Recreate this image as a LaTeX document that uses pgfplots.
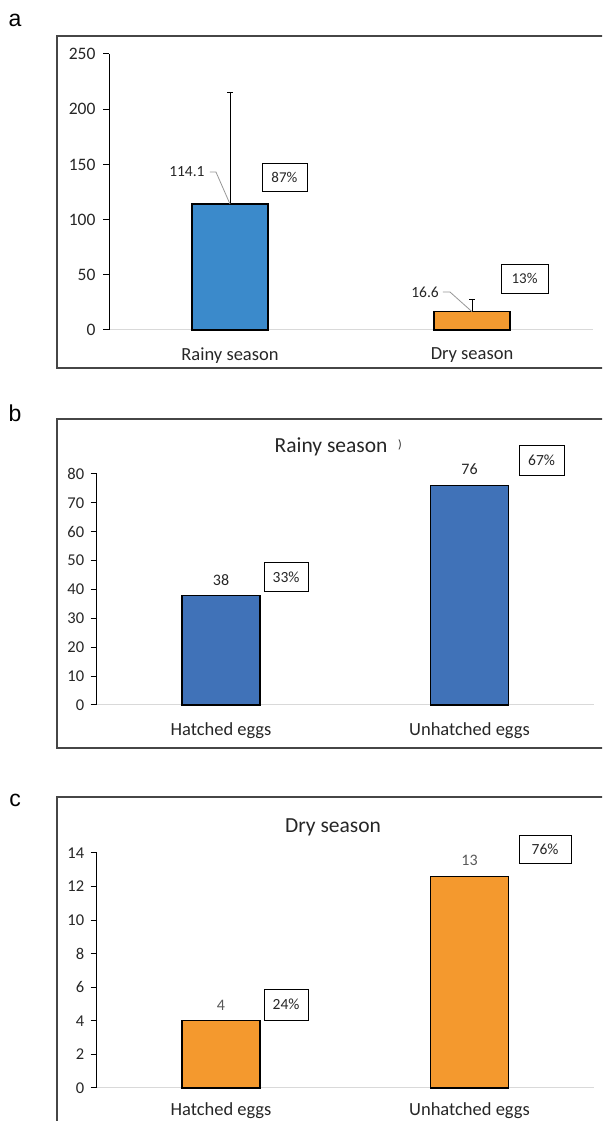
\documentclass[border=0pt]{standalone}
\usepackage{pgfplots}
\pgfplotsset{compat=1.18}
\usepackage{fontspec}
\setmainfont{Carlito}
\newfontfamily\arialfont{Liberation Sans}
\definecolor{blueA}{RGB}{59,138,203}
\definecolor{orangeA}{RGB}{243,154,48}
\definecolor{blueB}{RGB}{64,114,184}
\definecolor{orangeC}{RGB}{244,153,46}
\definecolor{frameC}{RGB}{70,70,70}
\definecolor{xlineC}{RGB}{217,217,217}
\definecolor{leadC}{RGB}{150,150,150}
\definecolor{txtC}{RGB}{38,38,38}
\newcommand{\fs}[1]{\fontsize{#1}{#1}\selectfont}
\pgfplotsset{
  panel/.style={
    scale only axis,
    enlargelimits=false,
    clip=false,
    xmin=-0.5, xmax=1.5,
    axis x line*=bottom, axis y line*=left,
    axis line style={-},
    x axis line style={-,draw=xlineC, line width=1pt},
    y axis line style={-,draw=black, line width=1pt},
    xtick={0,1},
    major x tick style={draw=none},
    ytick style={draw=black, line width=1pt},
    tick align=outside,
    major tick length=6pt,
    /pgf/number format/assume math mode=true,
    xticklabel style={font=\fs{18.5}, text=txtC, yshift=-8pt},
    ybar, bar shift=0pt,
  },
}
\begin{document}
\begin{tikzpicture}
\useasboundingbox (0pt,0pt) rectangle (602pt,1121pt);
\clip (0pt,0pt) rectangle (602pt,1121pt);
% frames
\draw[frameC, line width=1.5pt] (57pt,753pt) rectangle (615pt,1085pt);
\draw[frameC, line width=1.5pt] (57pt,373pt) rectangle (615pt,702pt);
\draw[frameC, line width=1.5pt] (57pt,-20pt) rectangle (615pt,324pt);
\node[font=\arialfont\fs{23}] at (15pt,1101pt) {a};
\node[font=\arialfont\fs{23}] at (15pt,708pt) {b};
\node[font=\arialfont\fs{23}] at (15pt,321pt) {c};

% ---------- panel a ----------
\begin{axis}[panel, at={(109pt,791pt)}, anchor=south west, width=484pt, height=276pt,
  ymin=0, ymax=250, ytick={0,50,...,250},
  yticklabel style={font=\fs{17.5}, text=txtC, xshift=-4pt},
  xticklabels={Rainy season, Dry season}, bar width=76pt]
\addplot[fill=blueA, draw=black, line width=1.2pt,
  error bars/.cd, y dir=plus, y explicit,
  error bar style={black, line width=0.8pt},
  error mark options={rotate=90, mark size=3pt, black, line width=0.8pt}]
  coordinates {(0,114.1) +- (0,101.5)};
\addplot[fill=orangeA, draw=black, line width=1.2pt,
  error bars/.cd, y dir=plus, y explicit,
  error bar style={black, line width=0.8pt},
  error mark options={rotate=90, mark size=3pt, black, line width=0.8pt}]
  coordinates {(1,16.6) +- (0,11.5)};
\node[font=\fs{15.5}, text=txtC] at (axis cs:-0.178,143.1) {114.1};
\draw[leadC, line width=0.8pt] (axis cs:-0.083,143.1) -- (axis cs:-0.058,143.1) -- (axis cs:0,114.1);
\node[font=\fs{15.5}, text=txtC] at (axis cs:0.806,34.4) {16.6};
\draw[leadC, line width=0.8pt] (axis cs:0.880,34.4) -- (axis cs:0.909,34.4) -- (axis cs:1,16.6);
\node[draw=black, line width=0.9pt, minimum width=45pt, minimum height=28pt, inner sep=0pt, font=\fs{15}, text=txtC] at (axis cs:0.225,138.6) {87\%};
\node[draw=black, line width=0.9pt, minimum width=47pt, minimum height=29pt, inner sep=0pt, font=\fs{15}, text=txtC] at (axis cs:1.217,46.6) {13\%};
\end{axis}

% ---------- panel b ----------
\begin{axis}[panel, at={(96.75pt,416pt)}, anchor=south west, width=497pt, height=231pt,
  ymin=0, ymax=80, ytick={0,10,...,80},
  yticklabel style={font=\fs{16.5}, text=txtC, xshift=-3pt},
  xticklabels={Hatched eggs, Unhatched eggs}, bar width=78pt]
\addplot[fill=blueB, draw=black, line width=1.2pt] coordinates {(0,38)};
\addplot[fill=blueB, draw=black, line width=1.2pt] coordinates {(1,76)};
\node[font=\fs{21.5}, text=txtC] at (axis cs:0.443,89.4) {Rainy season};
\node[font=\fs{12}, text=txtC] at (axis cs:0.720,90.0) {)};
\node[font=\fs{16}, text=txtC] at (axis cs:0,43.3) {38};
\node[font=\fs{16}, text=txtC] at (axis cs:1,81.7) {76};
\node[draw=black, line width=0.9pt, minimum width=44pt, minimum height=29pt, inner sep=0pt, font=\fs{15.5}, text=txtC] at (axis cs:0.262,44.2) {33\%};
\node[draw=black, line width=0.9pt, minimum width=45pt, minimum height=30pt, inner sep=0pt, font=\fs{15.5}, text=txtC] at (axis cs:1.290,84.8) {67\%};
\end{axis}

% ---------- panel c ----------
\begin{axis}[panel, at={(96.75pt,33pt)}, anchor=south west, width=497pt, height=235pt,
  ymin=0, ymax=14, ytick={0,2,...,14},
  yticklabel style={font=\fs{16.5}, text=txtC, xshift=-3pt},
  xticklabel style={yshift=3pt},
  xticklabels={Hatched eggs, Unhatched eggs}, bar width=78pt]
\addplot[fill=orangeC, draw=black, line width=1.2pt] coordinates {(0,4)};
\addplot[fill=orangeC, draw=black, line width=1.2pt] coordinates {(1,12.6)};
\node[font=\fs{21.5}, text=txtC] at (axis cs:0.451,15.55) {Dry season};
\node[font=\fs{16}, text=black!65] at (axis cs:0,4.94) {4};
\node[font=\fs{16}, text=black!65] at (axis cs:1,13.58) {13};
\node[draw=black, line width=0.9pt, minimum width=44pt, minimum height=31pt, inner sep=0pt, font=\fs{15.5}, text=txtC] at (axis cs:0.262,4.97) {24\%};
\node[draw=black, line width=0.9pt, minimum width=52pt, minimum height=28pt, inner sep=0pt, font=\fs{15.5}, text=txtC] at (axis cs:1.304,14.24) {76\%};
\end{axis}
\end{tikzpicture}
\end{document}
